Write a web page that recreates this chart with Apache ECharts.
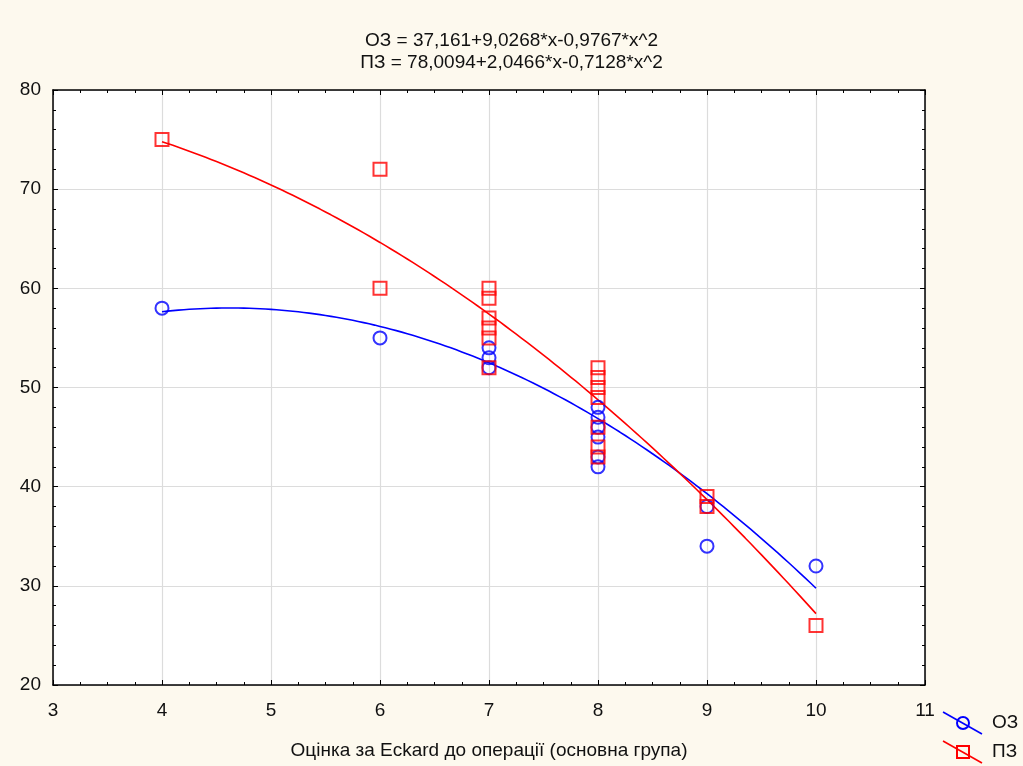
<!DOCTYPE html>
<html>
<head>
<meta charset="utf-8">
<script src="https://cdn.jsdelivr.net/npm/echarts@6/dist/echarts.min.js"></script>
<style>
    html, body { margin: 0; padding: 0; background: #fdf9ee; }
    #chart { width: 1023px; height: 766px; }
</style>
</head>
<body>
<div id="chart"></div>
<script>
/* дані: ОЗ (кола) та ПЗ (квадрати) */
var ozX = [4, 6, 7, 7, 7, 8, 8, 8, 8, 8, 8, 9, 9, 10];
var ozY = [58, 55, 54, 53, 52, 48, 47, 46, 45, 43, 42, 38, 34, 32];
var pzX = [4, 6, 6, 7, 7, 7, 7, 7, 7, 8, 8, 8, 8, 8, 8, 8, 9, 9, 10];
var pzY = [75, 72, 60, 60, 59, 57, 56, 55, 52, 52, 51, 50, 49, 46, 44, 43, 39, 38, 26];

// коефіцієнти квадратичної регресії з заголовка
var ozCoef = [37.161, 9.0268, -0.9767];
var pzCoef = [78.0094, 2.0466, -0.7128];
var fitRange = [4, 10];

var titleLines = ['ОЗ = 37,161+9,0268*x-0,9767*x^2', 'ПЗ = 78,0094+2,0466*x-0,7128*x^2'];
var xName = 'Оцінка за Eckard до операції (основна група)';
var seriesNames = ['ОЗ', 'ПЗ'];

function pairs(xs, ys) {
    var out = [], i;
    for (i = 0; i < xs.length; i++) { out.push([xs[i], ys[i]]); }
    return out;
}

function fitCurve(c) {
    var out = [], x, steps = 120, i;
    for (i = 0; i <= steps; i++) {
        x = fitRange[0] + (fitRange[1] - fitRange[0]) * i / steps;
        out.push([x, c[0] + c[1] * x + c[2] * x * x]);
    }
    return out;
}

var chart = echarts.init(document.getElementById('chart'));
var font = 'Liberation Sans, Arial, sans-serif';

var axisBase = {
    axisLine: { show: true, onZero: false, lineStyle: { color: '#000', width: 1.5 } },
    axisTick: { show: true, inside: true, length: 5, lineStyle: { color: '#000' } },
    minorTick: { show: true, length: 3, lineStyle: { color: '#000' } },
    axisLabel: { color: '#111', fontSize: 19, fontFamily: font }
};

function ax(extra) {
    return echarts.util.merge(echarts.util.clone(axisBase), extra, true);
}

var option = {
    backgroundColor: '#fdf9ee',
    animation: false,
    title: {
        text: titleLines.join('\n'),
        left: 'center',
        top: 25,
        textStyle: { fontSize: 19, fontWeight: 'normal', color: '#111', fontFamily: font, lineHeight: 22 }
    },
    grid: {
        left: 53, right: 98, top: 90, bottom: 81,
        show: true, backgroundColor: '#fff', borderWidth: 0
    },
    xAxis: [
        ax({
            type: 'value', min: 3, max: 11, interval: 1,
            minorTick: { splitNumber: 4 },
            axisLabel: { margin: 16 },
            splitLine: { show: true, lineStyle: { color: '#dcdcdc', width: 1.2 } },
            name: xName, nameLocation: 'middle', nameGap: 56,
            nameTextStyle: { fontSize: 19, color: '#111', fontFamily: font }
        }),
        ax({
            type: 'value', min: 3, max: 11, interval: 1, position: 'top',
            minorTick: { splitNumber: 4 },
            axisLabel: { show: false }, splitLine: { show: false }
        })
    ],
    yAxis: [
        ax({
            type: 'value', min: 20, max: 80, interval: 10,
            minorTick: { splitNumber: 5 },
            axisLabel: { margin: 12 },
            splitLine: { show: true, lineStyle: { color: '#dcdcdc', width: 1.2 } }
        }),
        ax({
            type: 'value', min: 20, max: 80, interval: 10, position: 'right',
            minorTick: { splitNumber: 5 },
            axisLabel: { show: false }, splitLine: { show: false }
        })
    ],
    series: [
        {
            name: seriesNames[0] + ' fit', type: 'line', showSymbol: false,
            data: fitCurve(ozCoef), lineStyle: { color: '#0000ff', width: 1.6 }, z: 2
        },
        {
            name: seriesNames[1] + ' fit', type: 'line', showSymbol: false,
            data: fitCurve(pzCoef), lineStyle: { color: '#ff0000', width: 1.6 }, z: 2
        },
        {
            name: seriesNames[0], type: 'scatter', symbol: 'circle', symbolSize: 13,
            data: pairs(ozX, ozY),
            itemStyle: { color: 'rgba(0,0,0,0)', borderColor: '#0000ff', borderWidth: 2 }, z: 3
        },
        {
            name: seriesNames[1], type: 'scatter', symbol: 'rect', symbolSize: 13,
            data: pairs(pzX, pzY),
            itemStyle: { color: 'rgba(0,0,0,0)', borderColor: '#ff0000', borderWidth: 2 }, z: 4
        }
    ],
    /* легенда вручну: лінія з маркером навскіс */
    graphic: [
        { type: 'line', shape: { x1: 943, y1: 712, x2: 982, y2: 734 }, style: { stroke: '#0000ff', lineWidth: 1.6 } },
        { type: 'circle', shape: { cx: 963, cy: 723, r: 6 }, style: { fill: 'none', stroke: '#0000ff', lineWidth: 2 } },
        { type: 'text', left: 992, top: 713, style: { text: seriesNames[0], fontSize: 19, fill: '#111', fontFamily: font } },
        { type: 'line', shape: { x1: 943, y1: 741, x2: 982, y2: 763 }, style: { stroke: '#ff0000', lineWidth: 1.6 } },
        { type: 'rect', shape: { x: 957, y: 746, width: 12, height: 12 }, style: { fill: 'none', stroke: '#ff0000', lineWidth: 2 } },
        { type: 'text', left: 992, top: 742, style: { text: seriesNames[1], fontSize: 19, fill: '#111', fontFamily: font } }
    ]
};

chart.setOption(option);
</script>
</body>
</html>
